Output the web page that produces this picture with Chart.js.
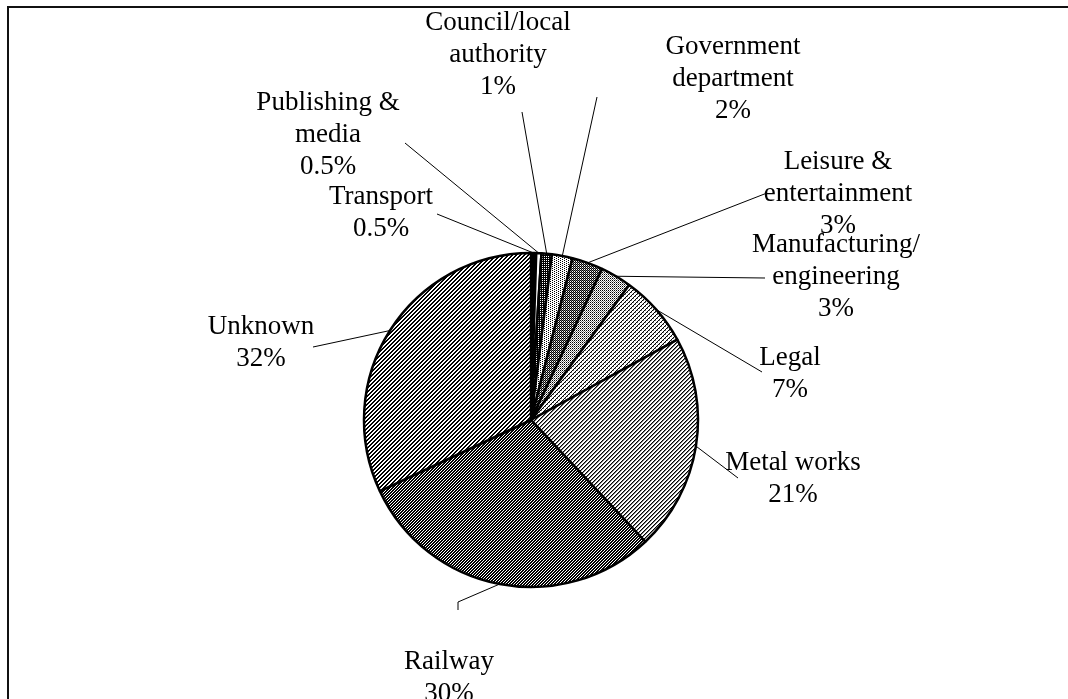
<!DOCTYPE html>
<html>
<head>
<meta charset="utf-8">
<script src="https://cdn.jsdelivr.net/npm/chart.js@4.4.1/dist/chart.umd.min.js"></script>
<style>
  html, body { margin: 0; padding: 0; background: #fff; }
  #wrap { position: relative; width: 1068px; height: 699px; overflow: hidden; background: #fff; }
  #frame { position: absolute; left: 7px; top: 6px; width: 1200px; height: 800px;
           border-left: 2px solid #111; border-top: 2px solid #111; box-sizing: border-box; }
  canvas { position: absolute; left: 0; top: 0; }
</style>
</head>
<body>
<div id="wrap">
  <div id="frame"></div>
  <canvas id="pie" width="1068" height="699"></canvas>
</div>
<script>
// Sectors, clockwise from 12 o'clock
const categories = [
  ['Transport'],
  ['Publishing &', 'media'],
  ['Council/local', 'authority'],
  ['Government', 'department'],
  ['Leisure &', 'entertainment'],
  ['Manufacturing/', 'engineering'],
  ['Legal'],
  ['Metal works'],
  ['Railway'],
  ['Unknown']
];
const shares = [0.5, 0.5, 1, 2, 3, 3, 7, 21, 30, 32];

// Monochrome hatch tiles: 1 = black, 2 = grey, 0 = white
const tiles = [
  ['11', '11'],                                   // Transport
  ['0'],                                          // Publishing & media
  ['01', '11'],                                   // Council/local authority
  ['1000', '0010'],                               // Government department
  ['12', '01'],                                   // Leisure & entertainment
  ['1010', '0202', '1010', '0202'],               // Manufacturing/engineering
  ['0012', '0100', '1200', '0001'],               // Legal
  ['0012', '0120', '1200', '2001'],               // Metal works
  ['110', '101', '011'],                          // Railway
  ['0011', '0110', '1100', '1001']                // Unknown
];

// Where each label block sits (centre x, first line y) and where its leader starts
const labelLayout = [
  { cx: 381, y: 197, lead: [[437, 214]] },
  { cx: 328, y: 103, lead: [[405, 143]] },
  { cx: 498, y: 23,  lead: [[522, 112]] },
  { cx: 733, y: 47,  lead: [[597, 97]] },
  { cx: 838, y: 162, lead: [[767, 193]] },
  { cx: 836, y: 245, lead: [[765, 278]] },
  { cx: 790, y: 358, lead: [[762, 372]] },
  { cx: 793, y: 463, lead: [[738, 478]] },
  { cx: 449, y: 662, lead: [[458, 610], [458, 602]] },
  { cx: 261, y: 327, lead: [[313, 347]] }
];
const lineStep = 32;
const labelFont = '27px "Liberation Serif", "Times New Roman", serif';

function makePattern(rows) {
  const h = rows.length, w = rows[0].length;
  const c = document.createElement('canvas');
  c.width = w; c.height = h;
  const g = c.getContext('2d');
  g.fillStyle = '#fff';
  g.fillRect(0, 0, w, h);
  for (let y = 0; y < h; y++) {
    for (let x = 0; x < w; x++) {
      const ch = rows[y][x];
      if (ch === '1') { g.fillStyle = '#000'; g.fillRect(x, y, 1, 1); }
      else if (ch === '2') { g.fillStyle = '#7a7a7a'; g.fillRect(x, y, 1, 1); }
    }
  }
  return g.createPattern(c, 'repeat');
}
const fills = tiles.map(makePattern);

// Leader lines and multi-line labels drawn from the arc geometry
const calloutPlugin = {
  id: 'callouts',
  afterDatasetsDraw(chart) {
    const ctx = chart.ctx;
    const meta = chart.getDatasetMeta(0);
    const values = chart.data.datasets[0].data;
    ctx.save();
    ctx.strokeStyle = '#000';
    ctx.lineWidth = 1;
    meta.data.forEach((arc, i) => {
      const p = arc.getProps(['x', 'y', 'startAngle', 'endAngle', 'outerRadius'], true);
      const mid = (p.startAngle + p.endAngle) / 2;
      const ex = p.x + Math.cos(mid) * p.outerRadius;
      const ey = p.y + Math.sin(mid) * p.outerRadius;
      const pts = labelLayout[i].lead;
      ctx.beginPath();
      ctx.moveTo(pts[0][0], pts[0][1]);
      for (let k = 1; k < pts.length; k++) ctx.lineTo(pts[k][0], pts[k][1]);
      ctx.lineTo(ex, ey);
      ctx.stroke();
    });
    ctx.fillStyle = '#000';
    ctx.font = labelFont;
    ctx.textAlign = 'center';
    ctx.textBaseline = 'middle';
    chart.data.labels.forEach((lines, i) => {
      const L = labelLayout[i];
      const all = lines.concat([values[i] + '%']);
      all.forEach((t, k) => ctx.fillText(t, L.cx, L.y + k * lineStep));
    });
    ctx.restore();
  }
};

new Chart(document.getElementById('pie'), {
  type: 'pie',
  data: {
    labels: categories,
    datasets: [{
      data: shares,
      backgroundColor: fills,
      borderColor: '#000',
      borderWidth: 2.5,
      hoverOffset: 0,
      radius: 167
    }]
  },
  options: {
    responsive: false,
    animation: false,
    events: [],
    radius: 167,
    layout: { padding: { left: 0, right: 6, top: 141, bottom: 0 } },
    plugins: { legend: { display: false }, tooltip: { enabled: false } }
  },
  plugins: [calloutPlugin]
});
</script>
</body>
</html>
